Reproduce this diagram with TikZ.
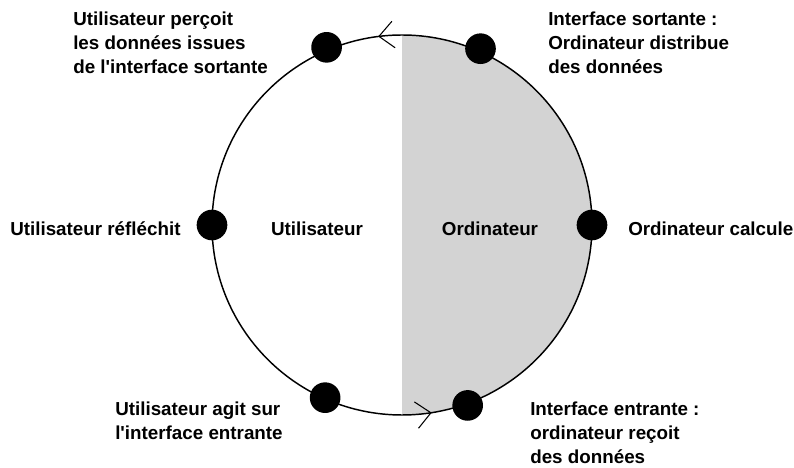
\documentclass[tikz,border=0pt]{standalone}
\usepackage{fontspec}
\setmainfont{Liberation Sans}
\usetikzlibrary{arrows.meta,decorations.markings}
\tikzset{
  dot/.style={circle,fill=black,inner sep=0pt,minimum size=23pt},
  lbl/.style={inner sep=0pt,align=left,font=\bfseries\fontsize{14.1}{18}\selectfont},
  cycleline/.style={line width=1.1pt,postaction={decorate},decoration={markings,
    mark=at position 0.27 with {\arrow[line width=0.8pt]{Straight Barb[length=11pt,width=20pt]}},
    mark=at position 0.775 with {\arrow[line width=0.8pt]{Straight Barb[length=11pt,width=20pt]}}}}
}
\definecolor{ordigray}{RGB}{211,211,211}
\begin{document}
\begin{tikzpicture}[x=0.75pt,y=0.75pt]
\useasboundingbox (0,0) rectangle (794,468);
\coordinate (c) at (402,243);
\fill[ordigray] ([shift={(90:190)}]c) arc (90:-90:190) -- cycle;
\draw[cycleline] (c) circle (190);
\node[dot] (pright) at ([shift={(0:190)}]c) {};
\node[dot] (psort) at ([shift={(66:193)}]c) {};
\node[dot] (ppercoit) at ([shift={(113:193)}]c) {};
\node[dot] (pleft) at ([shift={(180:190)}]c) {};
\node[dot] (pagit) at ([shift={(246:189)}]c) {};
\node[dot] (pentr) at ([shift={(290:192)}]c) {};
\node[lbl,anchor=west] (tpercoit) at (73,425) {Utilisateur perçoit\\les données issues\\de l\textquotesingle interface sortante};
\node[lbl,anchor=west] (tsort) at (548,425) {Interface sortante :\\Ordinateur distribue\\des données};
\node[lbl,anchor=west] (treflechit) at (10,239) {Utilisateur réfléchit};
\node[lbl] (tuser) at (317,239) {Utilisateur};
\node[lbl] (tordi) at (490,239) {Ordinateur};
\node[lbl,anchor=west] (tcalcule) at (628,239) {Ordinateur calcule};
\node[lbl,anchor=west] (tagit) at (115,47) {Utilisateur agit sur\\l\textquotesingle interface entrante};
\node[lbl,anchor=west] (tentr) at (530,35) {Interface entrante :\\ordinateur reçoit\\des données};
\end{tikzpicture}
\end{document}
